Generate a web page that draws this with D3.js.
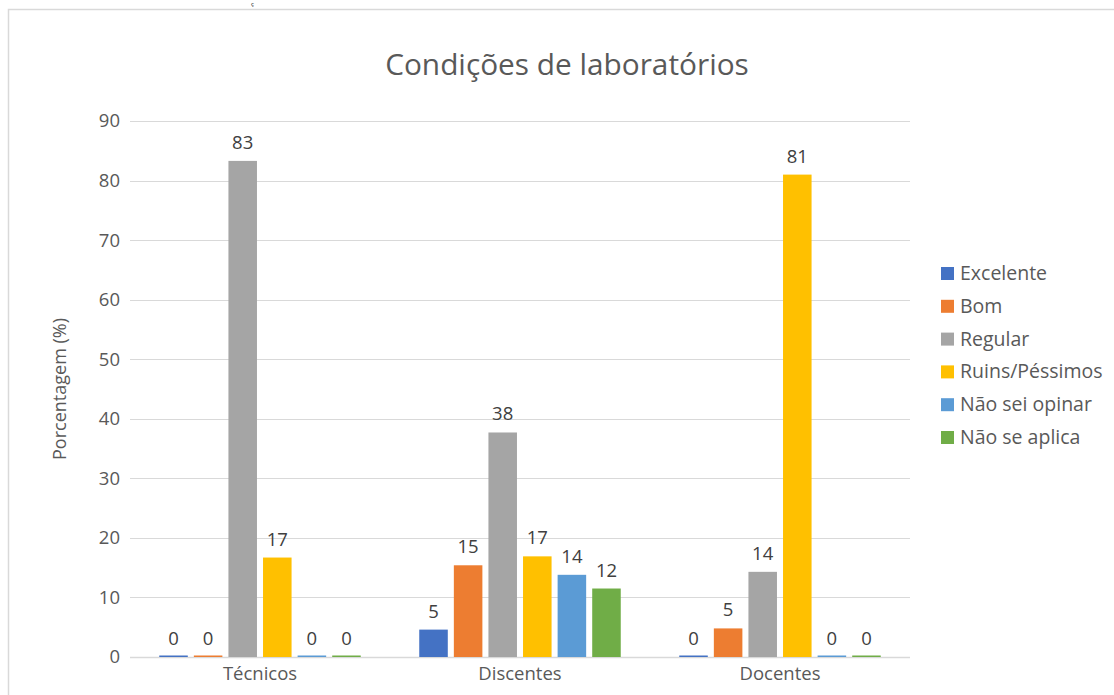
<!DOCTYPE html>
<html>
<head>
<meta charset="utf-8">
<style>
  body { margin: 0; background: #fff; }
  text { font-family: "Open Sans", "Noto Sans", sans-serif; }
</style>
</head>
<body>
<div id="chart"></div>
<script src="https://d3js.org/d3.v7.min.js"></script>
<script>

// data
let categories = ["Técnicos", "Discentes", "Docentes"];
let series = ["Excelente", "Bom", "Regular", "Ruins/Péssimos", "Não sei opinar", "Não se aplica"];
let colors = ["#4472c4", "#ed7d31", "#a5a5a5", "#ffc000", "#5b9bd5", "#70ad47"];
let excelente = [0, 4.6, 0];
let bom = [0, 15.4, 4.8];
let regular = [83.3, 37.7, 14.3];
let ruins = [16.7, 16.9, 81.0];
let naoSei = [0, 13.8, 0];
let naoSeAplica = [0, 11.5, 0];
let yTicks = [0, 10, 20, 30, 40, 50, 60, 70, 80, 90];

let seriesValues = [excelente, bom, regular, ruins, naoSei, naoSeAplica];

let width = 1114, height = 695;
let margin = {top: 121, left: 130, right: 204, bottom: 38};
let plot_w = width - margin.left - margin.right,
    plot_h = height - margin.top - margin.bottom;

let svg = d3.select("#chart").append("svg")
  .attr("width", width)
  .attr("height", height);

// outer chart frame (cut off at right and bottom)
svg.append("path")
  .attr("d", "M8.5," + height + " V9.5 H" + width)
  .attr("fill", "none")
  .attr("stroke", "#d9d9d9")
  .attr("stroke-width", 1.5);

// small character fragment above the frame
svg.append("text")
  .attr("x", 251).attr("y", 6)
  .attr("font-size", 6).attr("fill", "#000")
  .text("ç");

let g = svg.append("g")
  .attr("transform", "translate(" + margin.left + "," + margin.top + ")");

let x0 = d3.scaleBand().domain(categories).range([0, plot_w]);
let x1 = d3.scaleBand().domain(series).range([0, x0.bandwidth() * 0.775]).paddingInner(0.175);
let groupOffset = (x0.bandwidth() - x0.bandwidth() * 0.775) / 2;
let y = d3.scaleLinear().domain([0, 90]).range([plot_h, 0]);

// gridlines
g.append("g")
  .selectAll("line")
  .data(yTicks)
  .join("line")
    .attr("x1", 0).attr("x2", plot_w)
    .attr("y1", d => Math.round(y(d)) + 0.5).attr("y2", d => Math.round(y(d)) + 0.5)
    .attr("stroke", "#d9d9d9")
    .attr("stroke-width", d => d == 0 ? 1.5 : 1.2);

// y axis labels
let yAxis = g.append("g")
  .call(d3.axisLeft(y).tickValues(yTicks).tickSize(0).tickPadding(10));
yAxis.select(".domain").remove();
yAxis.selectAll("text")
  .attr("font-size", 18.5)
  .attr("fill", "#595959")
  .attr("font-family", "'Open Sans', sans-serif");

// x axis labels
let xAxis = g.append("g")
  .attr("transform", "translate(0," + plot_h + ")")
  .call(d3.axisBottom(x0).tickSize(0).tickPadding(10));
xAxis.select(".domain").remove();
xAxis.selectAll("text")
  .attr("font-size", 18.5)
  .attr("fill", "#595959")
  .attr("font-family", "'Open Sans', sans-serif");

// bars
let rows = [];
categories.forEach((c, ci) => {
  series.forEach((s, si) => {
    rows.push({cat: c, ser: s, value: seriesValues[si][ci], color: colors[si]});
  });
});

let bars = g.append("g")
  .selectAll("g")
  .data(rows)
  .join("g")
    .attr("transform", d => "translate(" + (x0(d.cat) + groupOffset + x1(d.ser)) + ",0)");

bars.append("rect")
  .attr("x", 0)
  .attr("width", x1.bandwidth())
  .attr("y", d => d.value == 0 ? plot_h - 1.5 : y(d.value))
  .attr("height", d => d.value == 0 ? 1.5 : plot_h - y(d.value))
  .attr("fill", d => d.color);

bars.append("text")
  .attr("x", x1.bandwidth() / 2)
  .attr("y", d => y(d.value) - 12)
  .attr("text-anchor", "middle")
  .attr("font-size", 18.5)
  .attr("fill", "#404040")
  .text(d => d3.format(".0f")(d.value));

// title
svg.append("text")
  .attr("x", 567).attr("y", 75)
  .attr("text-anchor", "middle")
  .attr("font-size", 29.8)
  .attr("fill", "#595959")
  .text("Condições de laboratórios");

// y axis title
svg.append("text")
  .attr("transform", "translate(66," + (margin.top + plot_h / 2) + ") rotate(-90)")
  .attr("text-anchor", "middle")
  .attr("font-size", 18)
  .attr("fill", "#595959")
  .text("Porcentagem (%)");

// legend
let legend = svg.append("g")
  .attr("transform", "translate(941,273)");
let items = legend.selectAll("g")
  .data(series)
  .join("g")
    .attr("transform", (d, i) => "translate(0," + (i * 32.8) + ")");
items.append("rect")
  .attr("x", 0).attr("y", -6)
  .attr("width", 13).attr("height", 13)
  .attr("fill", (d, i) => colors[i]);
items.append("text")
  .attr("x", 19).attr("y", 7)
  .attr("font-size", 19.5)
  .attr("fill", "#595959")
  .text(d => d);

</script>
</body>
</html>
